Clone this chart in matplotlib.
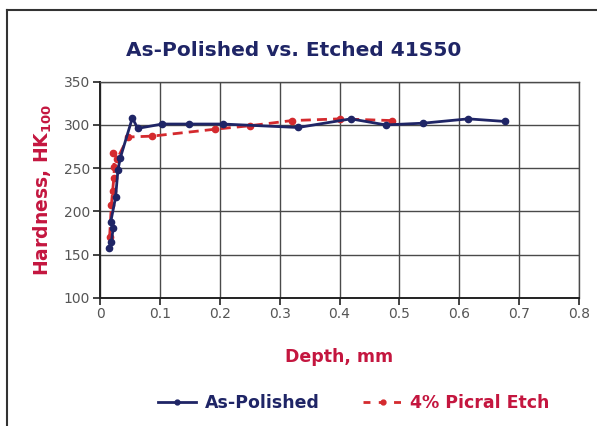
import matplotlib
matplotlib.use("Agg")
import matplotlib.pyplot as plt
from matplotlib.lines import Line2D

# Knoop hardness traverse data (depth in mm, hardness HK100)
polished_depth = [0.015, 0.019, 0.022, 0.018, 0.026, 0.030, 0.034, 0.054, 0.063,
                  0.104, 0.149, 0.205, 0.331, 0.419, 0.477, 0.540, 0.615, 0.676]
polished_hk = [157, 164, 181, 188, 216, 248, 262, 308, 296,
               301, 301, 301, 297, 307, 300, 302, 307, 304]

etched_depth = [0.016, 0.019, 0.021, 0.023, 0.024, 0.022, 0.029, 0.047,
                0.087, 0.192, 0.250, 0.320, 0.401, 0.488]
etched_hk = [170, 207, 223, 238, 251, 268, 261, 286,
             287, 295, 299, 305, 307, 305]

x_ticks = [0, 0.1, 0.2, 0.3, 0.4, 0.5, 0.6, 0.7, 0.8]
x_tick_labels = ["0", "0.1", "0.2", "0.3", "0.4", "0.5", "0.6", "0.7", "0.8"]
y_ticks = [100, 150, 200, 250, 300, 350]

NAVY = "#1f2566"
RED = "#d42a2e"
CRIMSON = "#c4163f"
GRID = "#4a4a4a"
TICK_TXT = "#555555"

plt.rcParams["font.family"] = ["DejaVu Sans"]

W, H = 597, 426
fig = plt.figure(figsize=(W / 100, H / 100), dpi=100)
ax = fig.add_axes([100 / W, 1 - 297.7 / H, (579 - 100) / W, (297.7 - 81.7) / H])

ax.plot(polished_depth, polished_hk, color=NAVY, lw=2.0, marker="o",
        ms=4.5, label="As-Polished", zorder=4)
ax.plot(etched_depth, etched_hk, color=RED, lw=2.0, ls=(0, (3.6, 2.2)),
        marker="o", ms=4.5, label="4% Picral Etch", zorder=3)

ax.set_xlim(0, 0.8)
ax.set_ylim(100, 350)
ax.set_xticks(x_ticks)
ax.set_xticklabels(x_tick_labels)
ax.set_yticks(y_ticks)
ax.grid(True, color=GRID, lw=1.0)
ax.set_axisbelow(True)
for s in ax.spines.values():
    s.set_color(GRID)
    s.set_linewidth(1.0)
ax.spines["left"].set_color("#222222")
ax.spines["bottom"].set_color("#222222")
ax.spines["left"].set_linewidth(1.4)
ax.spines["bottom"].set_linewidth(1.4)
ax.tick_params(axis="both", direction="out", length=5, width=1.2,
               color="#222222", labelcolor=TICK_TXT, labelsize=10, pad=2)

ax.set_xlabel("Depth, mm", color=CRIMSON, fontsize=12.5, fontweight="bold",
              labelpad=19)
ax.set_ylabel(r"Hardness, HK$_{\mathbf{100}}$", color=CRIMSON, fontsize=13.5,
              fontweight="bold", labelpad=7)

fig.text(294 / W, 1 - 50 / H, "As-Polished vs. Etched 41S50", color=NAVY,
         fontsize=14.5, fontweight="bold", ha="center", va="center")

handles = [
    Line2D([], [], color=NAVY, lw=2.0, marker="o", ms=3.5),
    Line2D([], [], color=RED, lw=2.0, ls=(0, (2.5, 3)), marker="o", ms=3.5),
]
leg = fig.legend(handles, ["As-Polished", "4% Picral Etch"], loc="center",
                 bbox_to_anchor=(354 / W, 1 - 403 / H), ncol=2, frameon=False,
                 handlelength=2.2, columnspacing=2.5, handletextpad=0.5,
                 prop={"weight": "bold", "size": 12.5},
                 labelcolor=[NAVY, CRIMSON])

# Outer frame (left and top edges)
fig.add_artist(Line2D([7 / W, 7 / W], [0, 1 - 10 / H], transform=fig.transFigure,
                      color="#333333", lw=1.5))
fig.add_artist(Line2D([7 / W, 1], [1 - 10 / H, 1 - 10 / H], transform=fig.transFigure,
                      color="#333333", lw=1.5))

fig.savefig("out.png", dpi=100, facecolor="white")
